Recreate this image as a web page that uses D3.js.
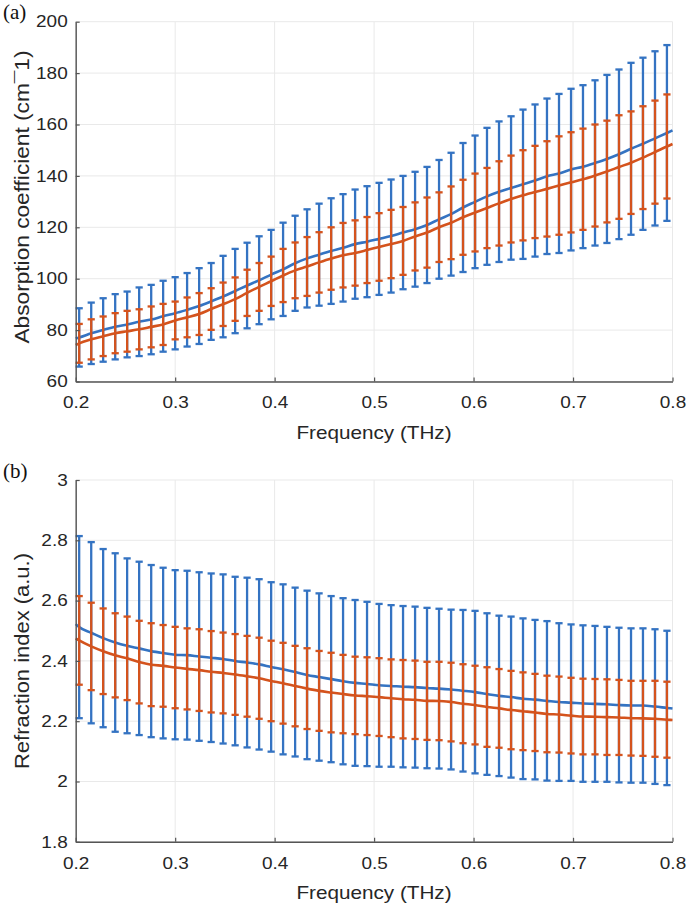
<!DOCTYPE html>
<html><head><meta charset="utf-8">
<script src="https://cdn.jsdelivr.net/npm/d3@7"></script>
<style>html,body{margin:0;padding:0;background:#fff}svg{display:block}</style>
</head><body>
<script>
// ---------- DATA ----------
const freq = [0.2035,0.2156,0.2276,0.2397,0.2517,0.2638,0.2759,0.2879,0.3000,0.3120,
  0.3241,0.3362,0.3482,0.3603,0.3723,0.3844,0.3965,0.4085,0.4206,0.4326,
  0.4447,0.4568,0.4688,0.4809,0.4929,0.5050,0.5171,0.5291,0.5412,0.5532,
  0.5653,0.5774,0.5894,0.6015,0.6135,0.6256,0.6377,0.6497,0.6618,0.6738,
  0.6859,0.6980,0.7100,0.7221,0.7341,0.7462,0.7583,0.7703,0.7824,0.7944];
const edgeFreq = [0.2, 0.8];
const xTicks = [0.2,0.3,0.4,0.5,0.6,0.7,0.8];

// (a) absorption coefficient
const absTicks = [60,80,100,120,140,160,180,200];
const absBlueMean = [77.15,78.75,80.05,81.3,82.2,83.25,84.1,85.4,86.55,87.9,
  89.35,91.15,93.05,95.2,97.35,99.4,101.6,103.65,106.0,107.9,
  109.35,110.75,112.0,113.45,114.4,115.5,116.6,117.95,119.25,120.9,
  123.1,125.1,127.7,129.9,132.05,133.85,135.3,136.75,138.2,139.85,
  140.95,142.45,143.6,145.05,146.6,148.4,150.55,152.5,154.6,156.7];
const absBlueStd = [11.35,11.95,12.35,12.7,12.8,13.35,13.5,13.8,14.05,14.3,
  14.75,14.95,15.85,16.4,16.65,17.1,17.4,18.15,18.5,19.1,
  19.85,20.55,20.9,21.25,21.6,21.8,22.0,22.05,22.35,22.6,
  23.1,23.9,25.1,25.8,26.65,27.35,27.9,29.05,29.6,30.25,
  30.95,31.45,31.7,32.15,32.7,33.0,33.45,33.5,33.9,34.2];
const absOrangeMean = [74.85,76.4,77.6,78.8,79.55,80.3,81.25,82.2,83.75,84.95,
  86.25,88.2,90.05,92.05,94.5,96.8,99.0,101.25,103.25,104.75,
  106.35,107.85,109.15,110.0,111.15,112.35,113.5,114.7,116.45,117.95,
  120.05,121.75,123.9,125.75,127.5,129.3,131.0,132.45,133.75,134.95,
  136.25,137.5,138.7,140.15,141.7,143.45,145.15,147.1,149.25,151.45];
const absOrangeStd = [7.55,7.8,7.7,7.8,7.95,7.8,7.95,8.0,7.35,7.75,
  8.15,8.1,8.45,8.45,9.0,9.3,9.6,10.35,10.85,11.45,
  11.75,12.15,12.55,12.7,12.85,13.15,13.3,13.2,13.25,13.65,
  13.55,14.15,14.6,15.15,15.6,16.4,16.9,17.55,17.95,18.55,
  19.15,19.5,19.7,19.85,19.8,20.15,19.95,20.0,20.05,20.25];
const absBlueEdge = [76.8, 157.7];
const absOrangeEdge = [74.2, 152.4];

// (b) refraction index
const riTicks = [1.8,2,2.2,2.4,2.6,2.8,3];
const riBlueMean = [2.512,2.4935,2.4755,2.461,2.45,2.4415,2.4325,2.426,2.4205,2.419,
  2.4145,2.4105,2.4065,2.3995,2.3945,2.3885,2.38,2.372,2.363,2.3535,
  2.3465,2.3395,2.3325,2.327,2.3235,2.319,2.317,2.3145,2.313,2.31,
  2.308,2.305,2.301,2.2965,2.29,2.284,2.28,2.2745,2.2715,2.2675,
  2.2635,2.2615,2.2585,2.2575,2.256,2.2535,2.252,2.252,2.2485,2.244];
const riBlueStd = [0.302,0.3005,0.2955,0.296,0.29,0.2875,0.2855,0.283,0.2805,0.28,
  0.2795,0.2795,0.2805,0.2795,0.2815,0.2825,0.281,0.282,0.28,0.2795,
  0.2775,0.2755,0.2755,0.275,0.2725,0.27,0.268,0.2675,0.267,0.266,
  0.265,0.265,0.268,0.2695,0.268,0.266,0.267,0.2665,0.2645,0.2645,
  0.2615,0.2595,0.2595,0.2585,0.257,0.2565,0.256,0.256,0.2565,0.256];
const riOrangeMean = [2.468,2.448,2.432,2.4185,2.4085,2.396,2.3875,2.3835,2.378,2.3735,
  2.3695,2.364,2.36,2.355,2.349,2.3425,2.3335,2.326,2.3165,2.308,
  2.3005,2.295,2.29,2.2855,2.283,2.28,2.276,2.273,2.271,2.2675,
  2.267,2.2635,2.258,2.2535,2.247,2.2425,2.237,2.233,2.229,2.224,
  2.222,2.2185,2.2155,2.215,2.2135,2.2125,2.21,2.2095,2.208,2.205];
const riOrangeStd = [0.147,0.145,0.142,0.1395,0.1385,0.137,0.1375,0.1355,0.135,0.1345,
  0.1355,0.135,0.134,0.134,0.134,0.1345,0.1335,0.134,0.1335,0.134,
  0.1325,0.132,0.13,0.1285,0.129,0.129,0.129,0.13,0.13,0.1295,
  0.13,0.1305,0.131,0.1305,0.132,0.1305,0.13,0.129,0.128,0.127,
  0.126,0.1255,0.1255,0.125,0.1255,0.1245,0.124,0.1245,0.126,0.126];
const riBlueEdge = [2.522, 2.242];
const riOrangeEdge = [2.475, 2.204];

// ---------- STYLE ----------
const BLUE = "#3473c2", ORANGE = "#d4531d";
const TEXT = "#262626", AXIS = "#555555", GRID = "#e9e9e9";
const FONT = "'Liberation Sans', Arial, sans-serif";
const SX = 1.15;           // horizontal stretch of the original picture
const TICK_FS = 16.5, XLABEL_FS = 18, YLABEL_FS = 19.5;

const svg = d3.select("body").append("svg").attr("width", 688).attr("height", 905);

function stretchText(sel, anchorX, anchorY, sx, rot) {
  sel.attr("transform", `translate(${anchorX},${anchorY}) scale(${sx},1)` + (rot ? ` rotate(${rot})` : ""));
}

function panel(o) {
  const x = d3.scaleLinear().domain([0.2, 0.8]).range([75.7, 672.5]);
  const y = d3.scaleLinear().domain([o.ticks[0], o.ticks[o.ticks.length - 1]]).range([o.bottom, o.top]);
  const g = svg.append("g");

  // grid
  g.append("g").selectAll("line").data(xTicks).join("line")
    .attr("x1", d => x(d)).attr("x2", d => x(d)).attr("y1", o.top).attr("y2", o.bottom)
    .attr("stroke", GRID).attr("stroke-width", 1);
  g.append("g").selectAll("line").data(o.ticks).join("line")
    .attr("x1", 75.7).attr("x2", 672.5).attr("y1", d => y(d)).attr("y2", d => y(d))
    .attr("stroke", GRID).attr("stroke-width", 1);

  // series
  o.series.forEach(s => {
    const sg = g.append("g");
    const pts = freq.map((f, i) => ({ f, m: s.mean[i], e: s.std[i] }));
    sg.selectAll("line.stem").data(pts).join("line")
      .attr("x1", d => x(d.f)).attr("x2", d => x(d.f))
      .attr("y1", d => y(d.m - d.e)).attr("y2", d => y(d.m + d.e))
      .attr("stroke", s.color).attr("stroke-width", 2.3);
    ["lo", "hi"].forEach(k => {
      sg.selectAll("line.cap" + k).data(pts).join("line")
        .attr("x1", d => x(d.f) - 3.6).attr("x2", d => x(d.f) + 3.6)
        .attr("y1", d => y(k === "lo" ? d.m - d.e : d.m + d.e))
        .attr("y2", d => y(k === "lo" ? d.m - d.e : d.m + d.e))
        .attr("stroke", s.color).attr("stroke-width", 2.3);
    });
    const linePts = [[edgeFreq[0], s.edge[0]], ...freq.map((f, i) => [f, s.mean[i]]), [edgeFreq[1], s.edge[1]]];
    sg.append("path").datum(linePts)
      .attr("d", d3.line().x(d => x(d[0])).y(d => y(d[1])).curve(d3.curveMonotoneX))
      .attr("fill", "none").attr("stroke", s.color).attr("stroke-width", 2.6);
  });

  // axes
  const ax = g.append("g").attr("transform", `translate(0,${o.bottom})`)
    .call(d3.axisBottom(x).tickValues(xTicks).tickSizeInner(-4).tickSizeOuter(0).tickPadding(15).tickFormat(d3.format(".1f")));
  const ay = g.append("g").attr("transform", `translate(75.7,0)`)
    .call(d3.axisLeft(y).tickValues(o.ticks).tickSizeInner(-4).tickSizeOuter(0).tickPadding(8).tickFormat(o.fmt));
  [ax, ay].forEach(a => {
    a.select(".domain").attr("stroke", AXIS).attr("stroke-width", 1.4);
    a.selectAll(".tick line").attr("stroke", AXIS).attr("stroke-width", 1.2);
    a.selectAll("text").attr("fill", TEXT).style("font-family", FONT).style("font-size", TICK_FS + "px");
  });
  ax.selectAll(".tick text").each(function () {
    const t = d3.select(this);
    const yy = +t.attr("y");
    t.attr("y", 0);
    stretchText(t, 0, yy, SX);
  });
  ay.selectAll(".tick text").each(function () {
    const t = d3.select(this);
    const xx = +t.attr("x");
    t.attr("x", 0);
    stretchText(t, xx, 0, SX);
  });

  // axis titles
  const xl = g.append("text").text("Frequency (THz)")
    .attr("text-anchor", "middle").attr("fill", TEXT)
    .style("font-family", FONT).style("font-size", XLABEL_FS + "px");
  stretchText(xl, 374, o.bottom + 57, SX);
  const yl = g.append("text").attr("text-anchor", "middle").attr("fill", TEXT)
    .attr("textLength", o.ylabelLen).attr("lengthAdjust", "spacingAndGlyphs")
    .style("font-family", FONT).style("font-size", YLABEL_FS + "px");
  yl.text(o.ylabel);
  stretchText(yl, 29, o.ylabelY, 1, -90);

  // panel letter
  svg.append("text").text(o.letter).attr("x", 3).attr("y", o.letterY)
    .attr("fill", "#111").style("font-family", "'Liberation Serif','Times New Roman',serif").style("font-size", "21px");
}

panel({
  top: 21.7, bottom: 381.5, ticks: absTicks, fmt: d3.format("d"),
  ylabel: "Absorption coefficient (cm\u00AF1)", ylabelLen: 293, ylabelY: 197, letter: "(a)", letterY: 19,
  series: [
    { mean: absBlueMean, std: absBlueStd, edge: absBlueEdge, color: BLUE },
    { mean: absOrangeMean, std: absOrangeStd, edge: absOrangeEdge, color: ORANGE }
  ]
});
panel({
  top: 480, bottom: 841.8, ticks: riTicks, fmt: d => String(d),
  ylabel: "Refraction index (a.u.)", ylabelLen: 216, ylabelY: 661, letter: "(b)", letterY: 478,
  series: [
    { mean: riBlueMean, std: riBlueStd, edge: riBlueEdge, color: BLUE },
    { mean: riOrangeMean, std: riOrangeStd, edge: riOrangeEdge, color: ORANGE }
  ]
});
</script>
</body></html>
